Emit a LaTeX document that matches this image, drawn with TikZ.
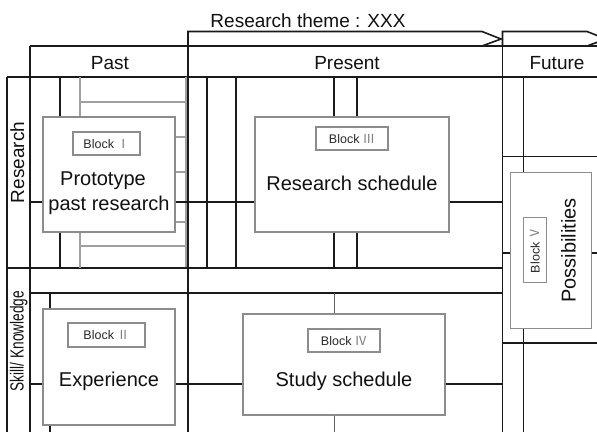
\documentclass[tikz,border=0pt]{standalone}
\usepackage{fontspec}
\setmainfont{Liberation Sans}
\newfontfamily\numfont{Noto Sans CJK JP}
\definecolor{ln}{HTML}{1A1A1A}
\definecolor{gl}{HTML}{A0A0A0}
\definecolor{bx}{HTML}{8C8C8C}
\definecolor{tx}{HTML}{111111}
\newcommand{\rn}[1]{\hspace{3pt}{\numfont\color{gray}#1}}
\begin{document}
\begin{tikzpicture}[x=1pt,y=-1pt,
  blk/.style={draw=ln,line width=1.6pt},
  gry/.style={draw=gl,line width=1.1pt},
  thn/.style={draw=ln!70,line width=1pt},
  box/.style={draw=bx,line width=1.1pt,fill=white,inner sep=0pt},
  lbl/.style={draw=bx,line width=1.1pt,fill=white,inner sep=0pt,text=tx!90,font=\fontsize{12.5}{14}\selectfont},
  big/.style={text=tx,font=\fontsize{20}{25}\selectfont,anchor=base},
  hdr/.style={text=tx,font=\fontsize{19}{23}\selectfont,anchor=base}]
\useasboundingbox (0,0) rectangle (597,432);
\clip (0,0) rectangle (597,432);
\fill[white] (0,0) rectangle (597,432);

% header
\node[hdr] (theme) at (308,27) {Research theme : XXX};
\draw[blk,line join=miter] (188,46) -- (188,31.5) -- (482,31.5) -- (501,39) -- (482,46);
\draw[blk,line join=miter] (502.5,46) -- (502.5,31.5) -- (587,31.5) -- (606,39) -- (587,46);
\draw[blk] (30,46) -- (597,46);
\draw[blk] (7,77) -- (597,77);
\node[hdr] (past) at (110,69.5) {Past};
\node[hdr] (present) at (347,69.5) {Present};
\node[hdr] (future) at (557,69.5) {Future};

% main verticals
\draw[blk] (7,77) -- (7,432);
\draw[blk] (30,46) -- (30,432);
\draw[gry] (186,77) -- (186,268);
\draw[blk] (188,31.5) -- (188,432);
\draw[blk] (502.5,31.5) -- (502.5,432);

% row lines
\draw[blk] (7,268) -- (502.5,268);
\draw[blk] (30,293) -- (502.5,293);

% boxes
\node[box,minimum width=132pt,minimum height=115pt] (b1) at (109,174.5) {};
\node[box,minimum width=194pt,minimum height=115pt] (b3) at (352,174.5) {};
\node[box,minimum width=132pt,minimum height=116pt] (b2) at (109,367) {};
\node[box,minimum width=202pt,minimum height=101pt] (b4) at (344,364.5) {};

% past column research
\draw[blk] (60,77) -- (60,0 |- b1.north);
\draw[blk] (60,0 |- b1.south) -- (60,268);
\draw[gry] (80,77) -- (80,0 |- b1.north);
\draw[gry] (80,0 |- b1.south) -- (80,268);
\draw[gry] (80,102) -- (186,102);
\draw[gry] (80,246) -- (186,246);
\draw[gry] (b1.east |- 0,137) -- (186,137);
\draw[gry] (b1.east |- 0,172) -- (186,172);
\draw[gry] (b1.east |- 0,222) -- (186,222);

% present column research
\draw[blk] (207,77) -- (207,268);
\draw[blk] (236,77) -- (236,268);
\draw[blk] (334,77) -- (334,0 |- b3.north);
\draw[blk] (357,77) -- (357,0 |- b3.north);
\draw[blk] (334,0 |- b3.south) -- (334,268);
\draw[blk] (357,0 |- b3.south) -- (357,268);

% research row horizontal
\draw[blk] (30,202) -- (b1.west |- 0,202);
\draw[blk] (b1.east |- 0,202) -- (b3.west |- 0,202);
\draw[blk] (b3.east |- 0,202) -- (502.5,202);

% skill row
\draw[blk] (50,293) -- (50,0 |- b2.north);
\draw[blk] (50,0 |- b2.south) -- (50,432);
\draw[thn] (334,293) -- (334,0 |- b4.north);
\draw[thn] (334,0 |- b4.south) -- (334,432);
\draw[blk] (30,384) -- (b2.west |- 0,384);
\draw[blk] (b2.east |- 0,384) -- (b4.west |- 0,384);
\draw[blk] (b4.east |- 0,384) -- (502.5,384);

% future column
\node[box,minimum width=81pt,minimum height=156pt] (b5) at (551.2,250.8) {};
\draw[blk] (502.5,156.5) -- (597,156.5);
\draw[blk] (502.5,343) -- (597,343);
\draw[blk] (523.5,77) -- (523.5,0 |- b5.north);
\draw[blk] (523.5,0 |- b5.south) -- (523.5,432);
\draw[blk] (502.5,253) -- (b5.west |- 0,253);
\draw[blk] (b5.east |- 0,253) -- (597,253);

% block labels
\node[lbl,minimum width=67pt,minimum height=23pt] (l1) at (106.5,143.5) {Block\rn{Ⅰ}};
\node[lbl,minimum width=72pt,minimum height=23pt] (l3) at (352,138.5) {Block\rn{Ⅲ}};
\node[lbl,minimum width=77pt,minimum height=24pt] (l2) at (106.5,335) {Block\rn{Ⅱ}};
\node[lbl,minimum width=72pt,minimum height=23pt] (l4) at (344,340.5) {Block\rn{Ⅳ}};
\node[lbl,rotate=90,minimum width=65pt,minimum height=23.5pt] (l5) at (535,250) {Block\rn{Ⅴ}};

% main texts
\node[big] (t1a) at (103,185) {Prototype};
\node[big] (t1b) at (109,210) {past research};
\node[big] (t3) at (352,190) {Research schedule};
\node[big] (t2) at (109,386.7) {Experience};
\node[big] (t4) at (344,386.7) {Study schedule};
\node[big,rotate=90] (t5) at (575.5,250.5) {Possibilities};

% row labels
\node[hdr,rotate=90] (r1) at (24,162.5) {Research};
\node[hdr,rotate=90] (r2) at (23.5,341) {\scalebox{0.72}[1]{Skill/ Knowledge}};
\end{tikzpicture}
\end{document}
